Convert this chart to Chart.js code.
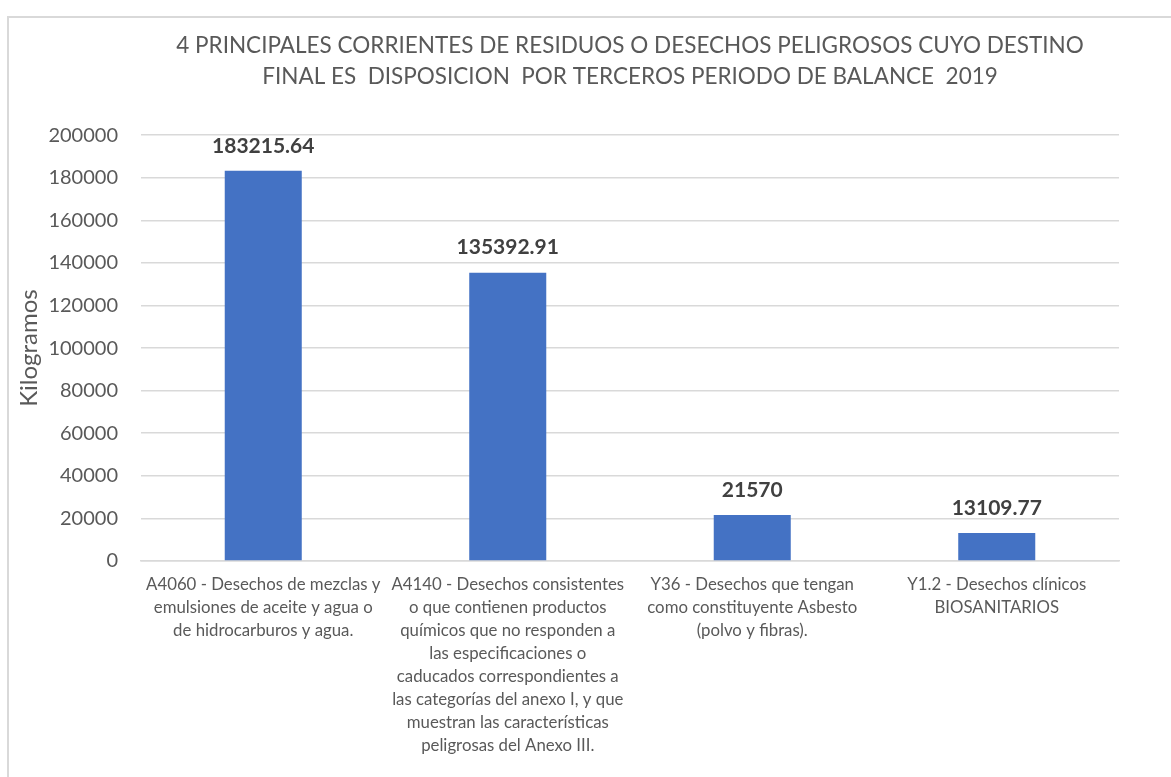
<!DOCTYPE html>
<html lang="es">
<head>
<meta charset="UTF-8">
<title>Corrientes de residuos peligrosos 2019</title>
<script src="https://cdn.jsdelivr.net/npm/chart.js"></script>
<style>
  html, body { margin: 0; padding: 0; background: #fff; overflow: hidden; }
  #frame {
    position: absolute; left: 7px; top: 16px;
    width: 1200px; height: 800px;
    border: 2px solid #d9d9d9;
  }
  #chart-box { position: absolute; left: 0; top: 0; width: 1171px; height: 777px; }
</style>
</head>
<body>
<div id="frame"></div>
<div id="chart-box"><canvas id="residuos"></canvas></div>
<script>
// Corrientes de residuos y kilogramos dispuestos por terceros
const categorias = [
  ['A4060 - Desechos de mezclas y', 'emulsiones de aceite y agua o', 'de hidrocarburos y agua.'],
  ['A4140 - Desechos consistentes', 'o que contienen productos', 'químicos que no responden a', 'las especificaciones o',
   'caducados correspondientes a', 'las categorías del anexo I, y que', 'muestran las características', 'peligrosas del Anexo III.'],
  ['Y36 - Desechos que tengan', 'como constituyente Asbesto', '(polvo y fibras).'],
  ['Y1.2 - Desechos clínicos', 'BIOSANITARIOS']
];
const kilogramos = [183215.64, 135392.91, 21570, 13109.77];
const etiquetasValor = ['183215.64', '135392.91', '21570', '13109.77'];
const titulo = [
  '4 PRINCIPALES CORRIENTES DE RESIDUOS O DESECHOS PELIGROSOS CUYO DESTINO',
  'FINAL ES  DISPOSICION  POR TERCEROS PERIODO DE BALANCE  2019'
];

const FONT = 'Lato, "Open Sans", sans-serif';

// value labels above each bar
const valorArriba = {
  id: 'valorArriba',
  afterDatasetsDraw(chart) {
    const ctx = chart.ctx;
    const meta = chart.getDatasetMeta(0);
    ctx.save();
    ctx.font = 'bold 21px ' + FONT;
    ctx.fillStyle = '#404040';
    ctx.textAlign = 'center';
    ctx.textBaseline = 'middle';
    meta.data.forEach((bar, i) => {
      ctx.fillText(etiquetasValor[i], bar.x, bar.y - 25);
    });
    ctx.restore();
  }
};

new Chart(document.getElementById('residuos'), {
  type: 'bar',
  data: {
    labels: categorias,
    datasets: [{
      data: kilogramos,
      backgroundColor: '#4472C4',
      borderWidth: 0,
      barPercentage: 0.315,
      categoryPercentage: 1
    }]
  },
  options: {
    responsive: true,
    maintainAspectRatio: false,
    animation: false,
    layout: { padding: { left: 0, right: 52, top: 0, bottom: 0 } },
    plugins: {
      legend: { display: false },
      tooltip: { enabled: false },
      title: {
        display: true,
        fullSize: false,
        text: titulo,
        color: '#595959',
        font: { family: FONT, size: 22.5, weight: 'normal', lineHeight: 1.38 },
        padding: { top: 30, bottom: 43 }
      }
    },
    scales: {
      x: {
        grid: { display: false, drawTicks: false },
        border: { display: true, color: '#d9d9d9', width: 1.5 },
        ticks: {
          color: '#595959',
          font: { family: FONT, size: 16.8, lineHeight: 1.37 },
          padding: 12,
          maxRotation: 0,
          autoSkip: false
        },
        afterFit(scale) { scale.height = 216; }
      },
      y: {
        min: 0,
        max: 200000,
        grid: { color: '#d9d9d9', lineWidth: 1.5, drawTicks: false },
        border: { display: false },
        ticks: {
          stepSize: 20000,
          color: '#595959',
          font: { family: FONT, size: 20 },
          padding: 23,
          callback: v => String(v)
        },
        title: {
          display: true,
          text: 'Kilogramos',
          color: '#595959',
          font: { family: FONT, size: 24, weight: 'normal' },
          padding: { top: 15 }
        },
        afterFit(scale) { scale.width = 141; }
      }
    }
  },
  plugins: [valorArriba]
});
</script>
</body>
</html>
